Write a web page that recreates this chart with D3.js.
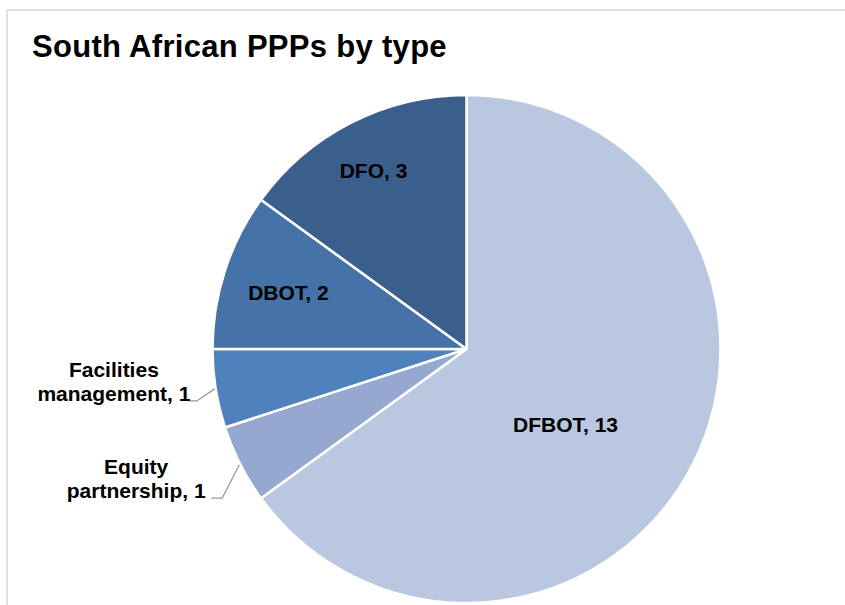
<!DOCTYPE html>
<html>
<head>
<meta charset="utf-8">
<script src="https://cdn.jsdelivr.net/npm/d3@7"></script>
<style>
  html, body { margin: 0; padding: 0; background: #ffffff; }
  svg { display: block; font-family: "Liberation Sans", Arial, sans-serif; }
</style>
</head>
<body>
<svg id="chart" width="845" height="605"></svg>
<script>
// PPP counts by contract type
const categories = ["DFBOT", "Equity partnership", "Facilities management", "DBOT", "DFO"];
const counts = [13, 1, 1, 2, 3];
const sliceColors = ["#bac7e0", "#95a9d0", "#4f81bd", "#4572a7", "#3b5f8c"];
const titleText = "South African PPPs by type";

const width = 845, height = 605;
const cx = 466.5, cy = 349, radius = 254;

const svg = d3.select("#chart");

// chart frame (top and left edges visible)
svg.append("line").attr("x1", 7).attr("y1", 10).attr("x2", width).attr("y2", 10)
  .attr("stroke", "#d9d9d9").attr("stroke-width", 1.5);
svg.append("line").attr("x1", 7).attr("y1", 10).attr("x2", 7).attr("y2", height)
  .attr("stroke", "#d9d9d9").attr("stroke-width", 1.5);

svg.append("text")
  .attr("x", 32).attr("y", 57)
  .attr("font-size", 31).attr("font-weight", "bold")
  .attr("letter-spacing", 0.3)
  .attr("fill", "#000")
  .text(titleText);

const data = categories.map((c, i) => ({ name: c, value: counts[i], color: sliceColors[i] }));

const pie = d3.pie().value(d => d.value).sort(null);
const arcs = pie(data);
const arc = d3.arc().innerRadius(0).outerRadius(radius);

const g = svg.append("g").attr("transform", `translate(${cx},${cy})`);

g.selectAll("path.slice")
  .data(arcs)
  .enter().append("path")
  .attr("class", "slice")
  .attr("d", arc)
  .attr("fill", d => d.data.color)
  .attr("stroke", "#ffffff")
  .attr("stroke-width", 2.5)
  .attr("stroke-linejoin", "round");

// polar helper: angle measured clockwise from 12 o'clock
const polar = (a, r) => [r * Math.sin(a), -r * Math.cos(a)];
const deg = Math.PI / 180;

// label placement per slice: inside labels use (radius fraction, angle shift);
// outside labels use a leader bend point (radius fraction, angle shift)
const labelLayout = {
  "DFBOT": { inside: true, rf: 0.49, da: 10.3 },
  "DBOT": { inside: true, rf: 0.735, da: -0.5 },
  "DFO": { inside: true, rf: 0.793, da: -0.5 },
  "Facilities management": { inside: false, rf: 1.081, da: -1.9, lines: ["Facilities", "management, "], hook: 8, textShift: 83 },
  "Equity partnership": { inside: false, rf: 1.127, da: -4.4, lines: ["Equity", "partnership, "], hook: 11, textShift: 86 }
};

const labelSize = 21;
const lineGap = 24;

arcs.forEach(d => {
  const L = labelLayout[d.data.name];
  const mid = (d.startAngle + d.endAngle) / 2;
  if (L.inside) {
    const [x, y] = polar(mid + L.da * deg, radius * L.rf);
    g.append("text")
      .attr("x", x).attr("y", y + labelSize * 0.36)
      .attr("text-anchor", "middle")
      .attr("font-size", labelSize).attr("font-weight", "bold")
      .attr("fill", "#000")
      .text(`${d.data.name}, ${d.value}`);
  } else {
    const start = polar(mid, radius + 1);
    const bend = polar(mid + L.da * deg, radius * L.rf);
    const end = [bend[0] - L.hook, bend[1]];
    g.append("path")
      .attr("d", d3.line()([start, bend, end]))
      .attr("fill", "none")
      .attr("stroke", "#999999")
      .attr("stroke-width", 1.3);
    const tx = bend[0] - L.textShift;
    const t = g.append("text")
      .attr("text-anchor", "middle")
      .attr("font-size", labelSize).attr("font-weight", "bold")
      .attr("fill", "#000");
    const lines = L.lines.slice();
    lines[lines.length - 1] = lines[lines.length - 1] + d.value;
    lines.forEach((ln, i) => {
      t.append("tspan")
        .attr("x", tx)
        .attr("y", bend[1] - (lines.length - 1 - i) * lineGap)
        .text(ln);
    });
  }
});
</script>
</body>
</html>
